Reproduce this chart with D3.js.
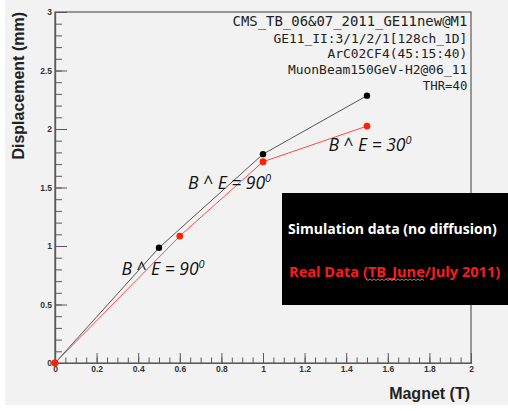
<!DOCTYPE html>
<html><head><meta charset="utf-8">
<script src="https://cdn.jsdelivr.net/npm/d3@7/dist/d3.min.js"></script>
<style>html,body{margin:0;padding:0;background:#fff;}svg{display:block;}</style>
</head><body>
<script>
// ---- data ----
const simX = [0, 0.5, 1.0, 1.5];
const simY = [0, 0.985, 1.785, 2.285];
const realX = [0, 0.6, 1.0, 1.5];
const realY = [0, 1.085, 1.72, 2.025];
const xMajorTicks = [0, 0.2, 0.4, 0.6, 0.8, 1, 1.2, 1.4, 1.6, 1.8, 2];
const yMajorTicks = [0, 0.5, 1, 1.5, 2, 2.5, 3];
const infoLines = ["CMS_TB_06&07_2011_GE11new@M1", "GE11_II:3/1/2/1[128ch_1D]", "ArC02CF4(45:15:40)", "MuonBeam150GeV-H2@06_11", "THR=40"];
const angleLabels = [
  {x: 0.32, y: 0.75, base: "B ^ E = 90", sup: "0"},
  {x: 0.64, y: 1.49, base: "B ^ E = 90", sup: "0"},
  {x: 1.315, y: 1.81, base: "B ^ E = 30", sup: "0"}
];
const legendItems = ["Simulation data (no diffusion)", "Real Data (TB_June/July 2011)"];

const W = 508, H = 411;
const svg = d3.select("body").append("svg").attr("width", W).attr("height", H);
svg.append("rect").attr("x", 5).attr("y", 0).attr("width", W - 5).attr("height", 405).attr("fill", "#f2f2f2");

const x = d3.scaleLinear().domain([0, 2]).range([55, 471]);
const y = d3.scaleLinear().domain([0, 3]).range([363, 12]);
const axisCol = "#5a5a5a";

// fit a text horizontally to a target width by scaling around its left/right anchor
function fitText(t, ax, width) {
  const w = t.node().getComputedTextLength();
  const s = width / w;
  t.attr("transform", `translate(${ax},0) scale(${s},1) translate(${-ax},0)`);
}

// frame
svg.append("rect").attr("x", x(0)).attr("y", y(3)).attr("width", x(2) - x(0)).attr("height", y(0) - y(3))
  .attr("fill", "none").attr("stroke", axisCol).attr("stroke-width", 1.2);

// y axis
const yMinor = d3.range(0, 3.0001, 0.1).map(v => +v.toFixed(2));
const gyMinor = svg.append("g").attr("transform", `translate(${x(0)},0)`)
  .call(d3.axisLeft(y).tickValues(yMinor).tickSize(-7).tickSizeOuter(0).tickFormat(""));
const gy = svg.append("g").attr("transform", `translate(${x(0)},0)`)
  .call(d3.axisLeft(y).tickValues(yMajorTicks).tickSize(-12).tickSizeOuter(0).tickPadding(3).tickFormat(d3.format("")));
// x axis
const xMinor = d3.range(0, 2.0001, 0.05).map(v => +v.toFixed(2));
const gxMinor = svg.append("g").attr("transform", `translate(0,${y(0)})`)
  .call(d3.axisBottom(x).tickValues(xMinor).tickSize(-5.5).tickSizeOuter(0).tickFormat(""));
const gx = svg.append("g").attr("transform", `translate(0,${y(0)})`)
  .call(d3.axisBottom(x).tickValues(xMajorTicks).tickSize(-10).tickSizeOuter(0).tickPadding(3).tickFormat(d3.format("")));
[gyMinor, gy, gxMinor, gx].forEach(g => {
  g.selectAll("path.domain").attr("stroke", axisCol).attr("stroke-width", 1.2);
  g.selectAll(".tick line").attr("stroke", axisCol).attr("stroke-width", 1);
  g.selectAll("text").attr("font-family", "Liberation Sans, Arial, sans-serif").attr("font-weight", "bold")
    .attr("font-size", 8.5).attr("fill", "#333");
});

// axis titles
svg.append("text").attr("transform", `translate(24,12) rotate(-90)`).attr("text-anchor", "end")
  .attr("font-family", "Liberation Sans, Arial, sans-serif").attr("font-weight", "bold").attr("font-size", 16)
  .attr("fill", "#222").text("Displacement (mm)");
svg.append("text").attr("x", 470).attr("y", 399).attr("text-anchor", "end")
  .attr("font-family", "Liberation Sans, Arial, sans-serif").attr("font-weight", "bold").attr("font-size", 16)
  .attr("fill", "#222").text("Magnet (T)");

// info text
const infoBase = [26.5, 43, 58.5, 74, 90];
const infoSize = [14, 13, 13, 13, 13];
const infoWidth = [235, 194, 140, 179.6, 44.5];
infoLines.forEach((t, i) => {
  const tx = svg.append("text").attr("x", 467.3).attr("y", infoBase[i]).attr("text-anchor", "end")
    .attr("font-family", "DejaVu Sans Mono, monospace").attr("font-size", infoSize[i]).attr("fill", "#222").text(t);
  fitText(tx, 467.3, infoWidth[i]);
});

// lines
const line = d3.line().x(d => x(d[0])).y(d => y(d[1]));
const sim = simX.map((v, i) => [v, simY[i]]);
const real = realX.map((v, i) => [v, realY[i]]);
svg.append("path").datum(sim).attr("d", line).attr("fill", "none").attr("stroke", "#555").attr("stroke-width", 1);
svg.append("path").datum(real).attr("d", line).attr("fill", "none").attr("stroke", "#ff4a4a").attr("stroke-width", 1);
svg.selectAll("circle.sim").data(sim).enter().append("circle").attr("class", "sim")
  .attr("cx", d => x(d[0])).attr("cy", d => y(d[1])).attr("r", 3.2).attr("fill", "#000");
svg.selectAll("circle.real").data(real).enter().append("circle").attr("class", "real")
  .attr("cx", d => x(d[0])).attr("cy", d => y(d[1])).attr("r", 3.4).attr("fill", "#ff2200");

// angle labels
angleLabels.forEach(a => {
  const t = svg.append("text").attr("x", x(a.x)).attr("y", y(a.y))
    .attr("font-family", "Open Sans, sans-serif").attr("font-style", "italic").attr("font-size", 17.5).attr("fill", "#111");
  t.append("tspan").text(a.base);
  t.append("tspan").attr("dy", -7).attr("font-size", 11).text(a.sup);
});

// legend box
svg.append("rect").attr("x", 282).attr("y", 193).attr("width", W - 282).attr("height", 112).attr("fill", "#000");
const l1 = svg.append("text").attr("x", 288).attr("y", 234).attr("font-family", "Open Sans, sans-serif").attr("font-weight", "bold")
  .attr("font-size", 15).attr("fill", "#fff").text(legendItems[0]);
fitText(l1, 288, 209);
const l2 = svg.append("text").attr("x", 289).attr("y", 277).attr("font-family", "Open Sans, sans-serif").attr("font-weight", "bold")
  .attr("font-size", 15).attr("fill", "#ff1a1a").text(legendItems[1]);
fitText(l2, 289, 211.5);
// spell-check squiggle under "TB_June"
const sq = d3.range(0, 30).map(i => [366 + i * 2, 279.5 + (i % 2 ? 1 : -0.5)]);
svg.append("path").attr("d", d3.line()(sq)).attr("fill", "none").attr("stroke", "#c9a0a0").attr("stroke-width", 0.8);
</script>
</body></html>
